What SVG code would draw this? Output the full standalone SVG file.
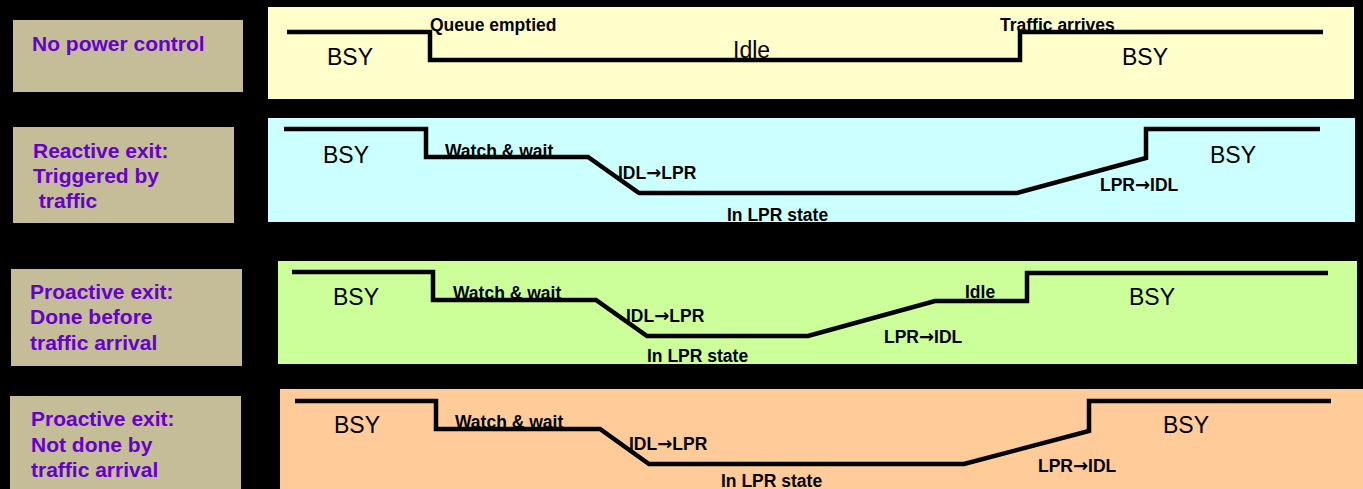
<svg xmlns="http://www.w3.org/2000/svg" width="1363" height="489" viewBox="0 0 1363 489">
  <style>
    .label-box { fill: #c4bd97; }
    .label { font-family: "Liberation Sans", Arial, sans-serif; font-weight: bold; font-size: 21px; fill: #6600cc; }
    .wave { fill: none; stroke: #000; stroke-width: 4.5; stroke-linejoin: miter; }
    .state { font-family: "Liberation Sans", Arial, sans-serif; font-size: 23px; fill: #000; }
    .note { font-family: "Liberation Sans", Arial, sans-serif; font-weight: bold; font-size: 17.5px; fill: #000; }
    .arrow { font-family: "DejaVu Sans", sans-serif; font-weight: bold; font-size: 18px; }
  </style>

  <rect x="0" y="0" width="1363" height="489" fill="#000"/>

  <!-- Row 1: no power control -->
  <g id="label-no-power">
    <rect class="label-box" x="13" y="20" width="230" height="72"/>
    <text class="label" x="32" y="51">No power control</text>
  </g>
  <g id="panel-no-power">
    <rect x="268" y="7" width="1086" height="92" fill="#ffffcc"/>
    <polyline class="wave" points="287,32 430,32 430,60 1020,60 1020,32 1323,32"/>
    <text class="state" x="327" y="65">BSY</text>
    <text class="state" x="733" y="58">Idle</text>
    <text class="state" x="1122" y="65">BSY</text>
    <text class="note" x="430" y="31">Queue emptied</text>
    <text class="note" x="1000" y="31">Traffic arrives</text>
  </g>

  <!-- Row 2: reactive exit -->
  <g id="label-reactive">
    <rect class="label-box" x="13" y="127" width="221" height="96"/>
    <text class="label" x="33" y="158">Reactive exit:</text>
    <text class="label" x="33" y="183">Triggered by</text>
    <text class="label" x="33" y="208" xml:space="preserve"> traffic</text>
  </g>
  <g id="panel-reactive">
    <rect x="268" y="118" width="1087" height="104" fill="#ccffff"/>
    <polyline class="wave" points="284,129 426,129 426,157 588,157 639,193 1017,193 1146,158 1146,129 1320,129"/>
    <text class="state" x="323" y="163">BSY</text>
    <text class="state" x="1210" y="163">BSY</text>
    <text class="note" x="445" y="157">Watch &amp; wait</text>
    <text class="note" x="618" y="179">IDL<tspan class="arrow">→</tspan>LPR</text>
    <text class="note" x="727" y="221">In LPR state</text>
    <text class="note" x="1100" y="191">LPR<tspan class="arrow">→</tspan>IDL</text>
  </g>

  <!-- Row 3: proactive exit before traffic arrival -->
  <g id="label-proactive-before">
    <rect class="label-box" x="11" y="269" width="231" height="97"/>
    <text class="label" x="30" y="299">Proactive exit:</text>
    <text class="label" x="30" y="324">Done before</text>
    <text class="label" x="30" y="350">traffic arrival</text>
  </g>
  <g id="panel-proactive-before">
    <rect x="278" y="261" width="1079" height="103" fill="#ccff99"/>
    <polyline class="wave" points="292,272 433,272 433,300 596,300 647,336 808,336 935,301 1027,301 1027,273 1328,273"/>
    <text class="state" x="333" y="305">BSY</text>
    <text class="state" x="1129" y="305">BSY</text>
    <text class="note" x="453" y="299">Watch &amp; wait</text>
    <text class="note" x="626" y="322">IDL<tspan class="arrow">→</tspan>LPR</text>
    <text class="note" x="647" y="362">In LPR state</text>
    <text class="note" x="884" y="343">LPR<tspan class="arrow">→</tspan>IDL</text>
    <text class="note" x="965" y="298">Idle</text>
  </g>

  <!-- Row 4: proactive exit overtaken by traffic arrival -->
  <g id="label-proactive-late">
    <rect class="label-box" x="10" y="396" width="231" height="93"/>
    <text class="label" x="31" y="426">Proactive exit:</text>
    <text class="label" x="31" y="452">Not done by</text>
    <text class="label" x="31" y="477">traffic arrival</text>
  </g>
  <g id="panel-proactive-late">
    <rect x="280" y="389" width="1083" height="100" fill="#ffcc99"/>
    <polyline class="wave" points="295,401 436,401 436,429 600,429 649,464 964,464 1089,431 1089,401 1331,401"/>
    <text class="state" x="334" y="433">BSY</text>
    <text class="state" x="1163" y="433">BSY</text>
    <text class="note" x="455" y="428">Watch &amp; wait</text>
    <text class="note" x="629" y="450">IDL<tspan class="arrow">→</tspan>LPR</text>
    <text class="note" x="721" y="487">In LPR state</text>
    <text class="note" x="1038" y="472">LPR<tspan class="arrow">→</tspan>IDL</text>
  </g>

  <g id="connectors"/>
</svg>
